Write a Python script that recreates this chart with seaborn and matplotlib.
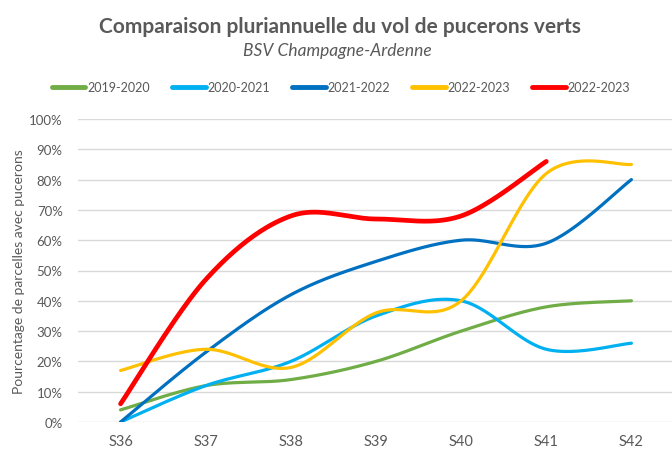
import numpy as np
import pandas as pd
import seaborn as sns
import matplotlib
matplotlib.use("Agg")
import matplotlib.pyplot as plt

semaines = ["S36", "S37", "S38", "S39", "S40", "S41", "S42"]

v_2019_2020 = [4, 12, 14, 20, 30, 38, 40]
v_2020_2021 = [0, 12, 20, 35, 40, 24, 26]
v_2021_2022 = [0, 23, 42, 53, 60, 59, 80]
v_2022_2023 = [17, 24, 18, 36, 40, 82, 85]
v_2022_2023_b = [6, 47, 68, 67, 68, 86]

series = [
    ("2019-2020", v_2019_2020, "#70AD47", 2.3),
    ("2020-2021", v_2020_2021, "#00B0F0", 2.3),
    ("2021-2022", v_2021_2022, "#0070C0", 2.3),
    ("2022-2023", v_2022_2023, "#FFC000", 2.3),
    ("2022-2023", v_2022_2023_b, "#FF0000", 3.4),
]


def lissage(vals, n=40):
    # courbe lissee facon Excel (bezier / catmull-rom)
    x = np.arange(len(vals), dtype=float)
    y = np.array(vals, dtype=float) / 100
    px = np.concatenate([[x[0]], x, [x[-1]]])
    py = np.concatenate([[y[0]], y, [y[-1]]])
    xs, ys = [], []
    t = np.linspace(0, 1, n)
    for i in range(len(x) - 1):
        p0 = np.array([px[i + 1], py[i + 1]])
        p3 = np.array([px[i + 2], py[i + 2]])
        p1 = p0 + (p3 - np.array([px[i], py[i]])) / 6
        p2 = p3 - (np.array([px[i + 3], py[i + 3]]) - p0) / 6
        b = ((1 - t) ** 3)[:, None] * p0 + (3 * (1 - t) ** 2 * t)[:, None] * p1 \
            + (3 * (1 - t) * t ** 2)[:, None] * p2 + (t ** 3)[:, None] * p3
        xs.extend(b[:, 0])
        ys.extend(b[:, 1])
    return np.array(xs), np.array(ys)


sns.set_theme(style="white")
plt.rcParams['font.family'] = ['Lato', 'DejaVu Sans']

fig = plt.figure(figsize=(6.72, 4.52), dpi=100)
ax = fig.add_axes([78 / 672, 29 / 452, 596 / 672, 303 / 452])

for nom, vals, couleur, lw in series:
    xs, ys = lissage(vals)
    sns.lineplot(x=xs, y=ys, sort=False, estimator=None, color=couleur,
                 linewidth=lw, label=nom, ax=ax, solid_capstyle="round")

ax.set_xlim(-0.5, 6.5)
ax.set_ylim(0, 1)
ax.set_yticks(np.arange(0, 1.01, 0.1))
ax.set_yticklabels([f"{int(round(v * 100))}%" for v in np.arange(0, 1.01, 0.1)])
ax.set_xticks(range(len(semaines)))
ax.set_xticklabels(semaines)
ax.tick_params(axis="y", labelsize=9.5, labelcolor="#595959", length=0, pad=11)
ax.tick_params(axis="x", labelsize=10.5, labelcolor="#595959", length=0, pad=9)
ax.yaxis.grid(True, color="#D9D9D9", linewidth=1)
ax.set_axisbelow(True)
for s in ax.spines.values():
    s.set_visible(False)
ax.set_xlabel("")
ax.set_ylabel("Pourcentage de parcelles avec pucerons", fontsize=10,
              color="#595959", labelpad=3)

handles, labels = ax.get_legend_handles_labels()
ax.get_legend().remove()
leg = fig.legend(handles, labels, loc="center", ncol=5,
                 bbox_to_anchor=(341 / 672, 1 - 88 / 452), frameon=False,
                 fontsize=9, handlelength=2.7, handletextpad=0.15,
                 columnspacing=1.75)
for t in leg.get_texts():
    t.set_color("#595959")
for h in leg.get_lines():
    h.set_linewidth(3.5)

fig.text(340 / 672, 1 - 33 / 452, "Comparaison pluriannuelle du vol de pucerons verts",
         ha="center", va="baseline", fontsize=15, fontweight="bold", color="#595959")
fig.text(337 / 672, 1 - 56 / 452, "BSV Champagne-Ardenne", ha="center",
         va="baseline", fontsize=12.5, style="italic", color="#595959")

fig.savefig("out.png", dpi=100)
